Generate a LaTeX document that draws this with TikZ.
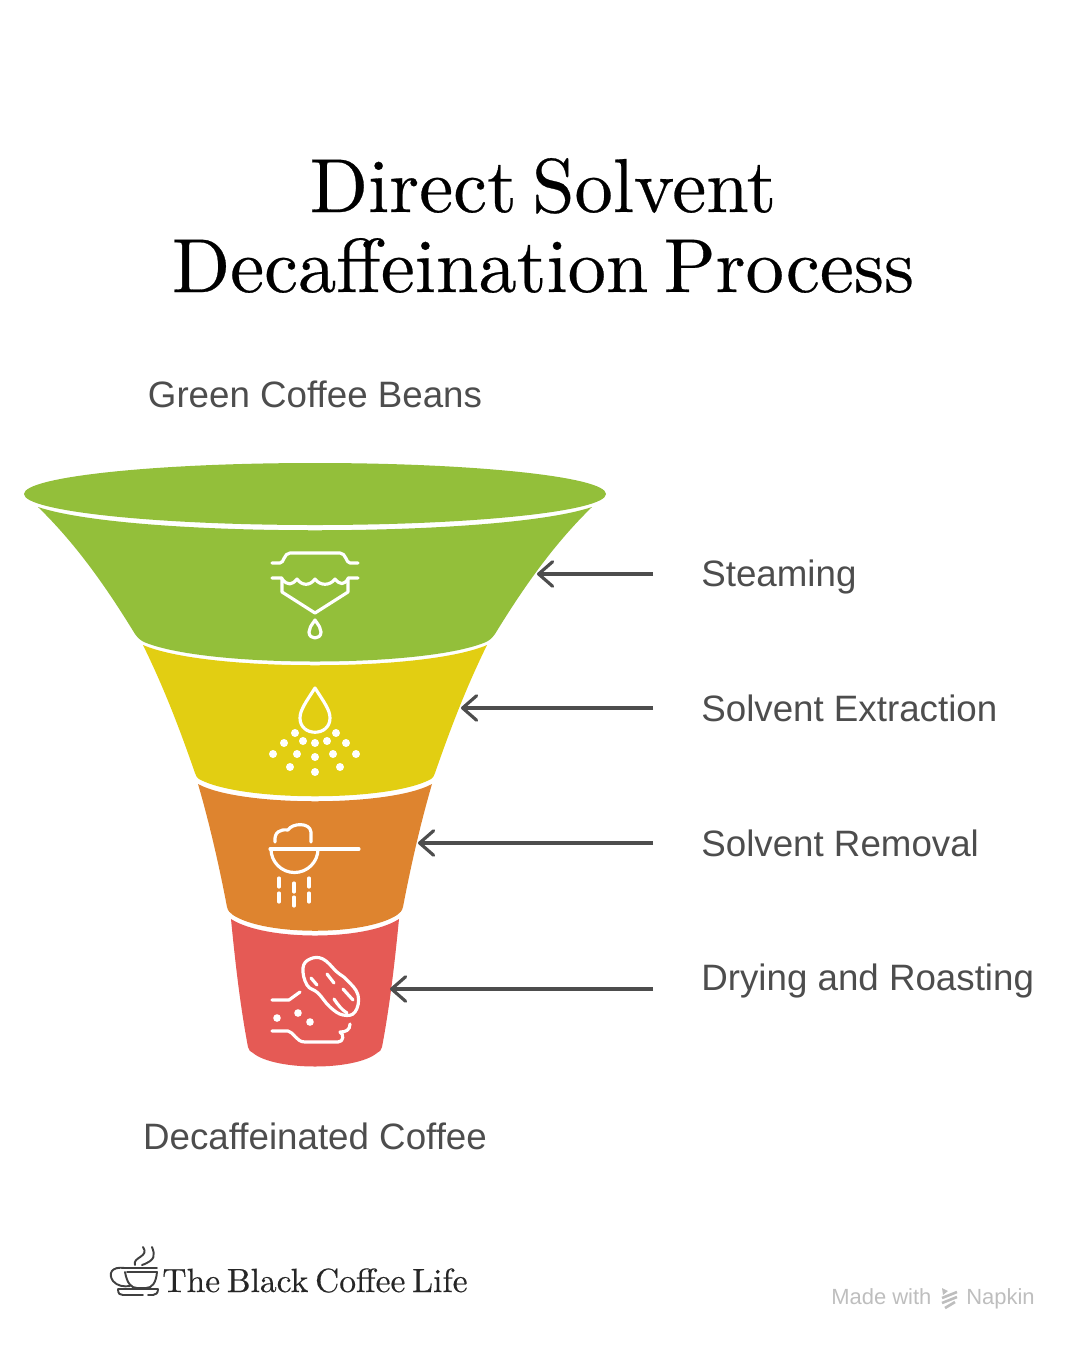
\documentclass[tikz,border=0pt]{standalone}
\usepackage{xcolor}
\usepackage{fontspec}
\usepackage{tikz}
\usetikzlibrary{arrows.meta}
\setsansfont{Liberation Sans}
\newfontfamily\titlefont[Extension=.otf,FakeBold=0.35,WordSpace=0.6]{lmroman10-regular}
\definecolor{beangreen}{HTML}{93BF3A}
\definecolor{solventyellow}{HTML}{E2CE12}
\definecolor{removalorange}{HTML}{DE842F}
\definecolor{roastred}{HTML}{E55A55}
\definecolor{labelgray}{HTML}{4D4D4D}
\definecolor{markgray}{HTML}{BEBEBE}
\tikzset{
  icon/.style={draw=white, line width=1.8pt, line cap=round, line join=round},
  icondot/.style={fill=white},
  headline/.style={anchor=base, inner sep=0pt, font=\titlefont\fontsize{43.5}{46}\selectfont},
  steplabel/.style={anchor=base west, inner sep=0pt, text=labelgray, font=\sffamily\fontsize{20.9}{24}\selectfont},
  endlabel/.style={anchor=base, inner sep=0pt, text=labelgray, font=\sffamily\fontsize{20.9}{24}\selectfont},
  markText/.style={anchor=base west, inner sep=0pt, text=markgray, font=\sffamily\fontsize{12.5}{14}\selectfont},
  pointer/.style={draw=labelgray, line width=1.8pt, -{Straight Barb[length=8pt,width=14pt,line width=1.8pt,round]}},
  cupline/.style={draw=black!75, line width=1.1pt, line cap=round, line join=round}
}

\begin{document}
\begin{tikzpicture}[x=0.02cm,y=-0.02cm]
\useasboundingbox (0,0) rectangle (1080,1350);

\node[headline] (title) at (543,212) {Direct Solvent};
\node[headline] (subtitle) at (543,292) {Decaffeination Process};

\node[endlabel] (beans) at (315,407) {Green Coffee Beans};
\node[endlabel] (decaf) at (315,1149) {Decaffeinated Coffee};

% funnel bands, top to bottom
\fill[beangreen] (38,507) .. controls (75,543) and (105,585) .. (135,634) .. controls (138,638) and (140,640) .. (144,642) .. controls (205,668) and (425,668) .. (486,642) .. controls (490,640) and (492,638) .. (495,634) .. controls (525,585) and (555,543) .. (592,507) .. controls (500,538) and (130,538) .. (38,507) -- cycle;
\fill[beangreen] (315,494) ellipse (291 and 31);

\fill[solventyellow] (143,645) .. controls (205,672) and (425,672) .. (487,645) .. controls (465,690) and (450,730) .. (435,773) .. controls (434,776) and (433,778) .. (431,779) .. controls (390,802) and (240,802) .. (199,779) .. controls (197,778) and (196,776) .. (195,773) .. controls (180,730) and (165,690) .. (143,645) -- cycle;
\fill[removalorange] (198,784) .. controls (240,807) and (390,807) .. (432,784) .. controls (420,825) and (410,870) .. (403,907) .. controls (402,911) and (400,913) .. (397,915) .. controls (365,936) and (265,936) .. (233,915) .. controls (230,913) and (228,911) .. (227,907) .. controls (220,870) and (210,825) .. (198,784) -- cycle;
\fill[roastred] (231,919) .. controls (265,941) and (365,941) .. (399,919) .. controls (395,960) and (390,1005) .. (382,1047) .. controls (381,1050) and (380,1052) .. (377,1053) .. controls (355,1071) and (275,1071) .. (253,1053) .. controls (250,1052) and (249,1050) .. (248,1047) .. controls (240,1005) and (235,960) .. (231,919) -- cycle;

% steaming icon
\draw[icon] (272,563) -- (280,563) .. controls (284,563) and (284,553) .. (290,553) -- (340,553) .. controls (346,553) and (346,563) .. (350,563) -- (358,563);
\draw[icon] (272,578) -- (282,578) -- (282,592) -- (315,613) -- (348,592) -- (348,578) -- (358,578);
\draw[icon] (282,579) .. controls (288,586) and (292,585) .. (297,579) .. controls (302,586) and (310,586) .. (315,579) .. controls (320,586) and (330,586) .. (335,579) .. controls (340,585) and (344,585) .. (348,579);
\draw[icon] (315,620) .. controls (311,626) and (309,628) .. (309,632) .. controls (309,640) and (321,640) .. (321,632) .. controls (321,628) and (319,626) .. (315,620) -- cycle;

% extraction icon
\draw[icon] (315,688) .. controls (306,702) and (300,710) .. (300,718) .. controls (300,737) and (330,737) .. (330,718) .. controls (330,710) and (324,702) .. (315,688) -- cycle;
\foreach \dotx/\doty in {295/733,336/733,284/743,303/741,315/743,327/741,346/743,273/754,297/754,315/757,333/754,356/754,290/767,340/767,315/772}
  \fill[icondot] (\dotx,\doty) circle (4);

% removal icon
\draw[icon] (270,849) -- (359,849);
\draw[icon] (271,849) arc[start angle=180, end angle=0, radius=23.5];
\draw[icon] (275,842) .. controls (274,832) and (280,829) .. (288,830) .. controls (292,823) and (310,822) .. (311,832) -- (311,842);
\foreach \rainx/\rainy in {279/878,279/893,294/883,294/897,309/878,309/893}
  \draw[icon] (\rainx,\rainy) -- (\rainx,\rainy+9);

% roasting icon
\draw[icon] plot[smooth cycle, tension=0.7] coordinates {(303,968) (310,959) (323,959) (337,972) (347,980) (358,995) (355,1012) (343,1015) (330,1007) (318,993) (307,985)};
\draw[icon] (311,978) -- (317,985);
\draw[icon] (327,974) -- (334,983);
\draw[icon] (343,989) -- (353,1000);
\draw[icon] (334,999) .. controls (338,1005) and (342,1010) .. (347,1013);
\draw[icon] (272,1000) -- (289,1000) -- (300,992);
\draw[icon] (272,1031) -- (288,1031) .. controls (294,1032) and (296,1042) .. (305,1042) -- (338,1042) .. controls (344,1042) and (344,1034) .. (340,1032) .. controls (346,1032) and (350,1030) .. (350,1024);
\foreach \dotx/\doty in {277/1018,298/1013,310/1022}
  \fill[icondot] (\dotx,\doty) circle (3.8);

% step labels and pointers
\node[steplabel] (steaming) at (701,586) {Steaming};
\node[steplabel] (extraction) at (701,721) {Solvent Extraction};
\node[steplabel] (removal) at (701,856) {Solvent Removal};
\node[steplabel] (roasting) at (701,990) {Drying and Roasting};

\coordinate (steamingtail) at (653,574);
\coordinate (steamingtip) at (537,574);
\coordinate (extractiontail) at (653,708);
\coordinate (extractiontip) at (461,708);
\coordinate (removaltail) at (653,843);
\coordinate (removaltip) at (418,843);
\coordinate (roastingtail) at (653,989);
\coordinate (roastingtip) at (390,989);

\draw[pointer] (steamingtail) -- (steamingtip);
\draw[pointer] (extractiontail) -- (extractiontip);
\draw[pointer] (removaltail) -- (removaltip);
\draw[pointer] (roastingtail) -- (roastingtip);

% logo cup
\draw[cupline] (125,1272) .. controls (127,1283) and (131,1288) .. (137,1288) -- (146,1288) .. controls (152,1288) and (156,1283) .. (157,1272);
\draw[cupline] (127,1272) -- (157,1272);
\draw[cupline] (125,1268) -- (157,1268);
\draw[cupline] (125,1268) .. controls (111,1266) and (108,1274) .. (113,1281) .. controls (117,1286) and (124,1287) .. (130,1286);
\draw[cupline] (118,1289) -- (158,1289) (118,1289) .. controls (118,1294) and (120,1295) .. (123,1295) -- (143,1295) (148,1295) -- (153,1295) .. controls (156,1295) and (158,1293) .. (158,1289);
\draw[cupline] (135,1265) .. controls (132,1257) and (150,1257) .. (143,1247);
\draw[cupline] (142,1265) .. controls (156,1260) and (155,1255) .. (152,1247);
\node[anchor=base west, inner sep=0pt, text=black!85, font=\titlefont\fontsize{19.1}{22}\selectfont] (logo) at (162,1292) {The Black Coffee Life};

% napkin mark
\node[markText] (madewith) at (831,1304) {Made with};
\node[markText] (napkin) at (966,1304) {Napkin};
\fill[markgray] (942,1288) -- (948,1291) -- (943,1295) -- cycle;
\draw[markgray, line width=1.5pt] (942,1298) -- (957,1292) (942,1303) -- (957,1297) (945,1308) -- (955,1302);
\end{tikzpicture}
\end{document}
